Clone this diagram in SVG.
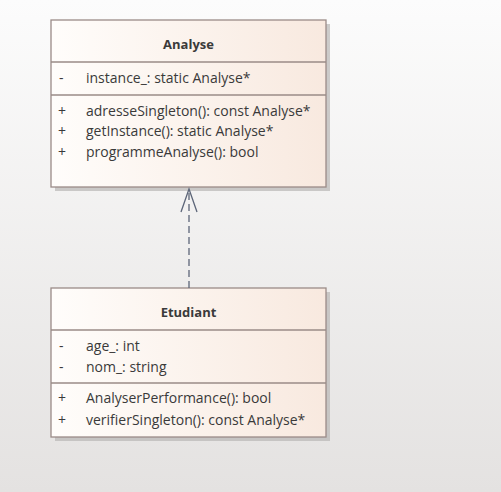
<svg xmlns="http://www.w3.org/2000/svg" width="501" height="492" viewBox="0 0 501 492">
<defs>
<linearGradient id="bg" x1="0" y1="0" x2="0" y2="1">
<stop offset="0" stop-color="#fcfcfc"/>
<stop offset="1" stop-color="#e4e2e1"/>
</linearGradient>
<linearGradient id="box" x1="0" y1="0" x2="1" y2="0">
<stop offset="0" stop-color="#fffdfb"/>
<stop offset="1" stop-color="#f8e9df"/>
</linearGradient>
<style>
.shadow{fill:#b8b6b5;opacity:0.7}
.frame{fill:url(#box);stroke:#9a8b87;stroke-width:1.3}
.sep{stroke:#9a8b87;stroke-width:1.3}
text{font-family:"Open Sans","Noto Sans","Liberation Sans",sans-serif;font-size:14px;fill:#3a3a3a}
.title{font-weight:bold;text-anchor:middle;font-size:13px}
.conn{stroke:#5d6679;stroke-width:1.3;fill:none}
</style>
</defs>
<rect x="0" y="0" width="501" height="492" fill="url(#bg)"/>
<g id="Analyse">
<rect class="shadow" x="55" y="24" width="275" height="167"/>
<rect class="frame" x="51" y="20" width="275" height="167"/>
<line class="sep" x1="51" y1="62" x2="326" y2="62"/>
<line class="sep" x1="51" y1="95" x2="326" y2="95"/>
<text class="title" x="188.5" y="49">Analyse</text>
<text x="59" y="83">-</text>
<text x="86" y="83">instance_: static Analyse*</text>
<text x="58" y="116">+</text>
<text x="86" y="116">adresseSingleton(): const Analyse*</text>
<text x="58" y="136">+</text>
<text x="86" y="136">getInstance(): static Analyse*</text>
<text x="58" y="157">+</text>
<text x="86" y="157">programmeAnalyse(): bool</text>
</g>
<g id="Etudiant">
<rect class="shadow" x="55" y="292" width="275" height="149"/>
<rect class="frame" x="51" y="288" width="275" height="149"/>
<line class="sep" x1="51" y1="330" x2="326" y2="330"/>
<line class="sep" x1="51" y1="383" x2="326" y2="383"/>
<text class="title" x="188.5" y="317">Etudiant</text>
<text x="59" y="351">-</text>
<text x="86" y="351">age_: int</text>
<text x="59" y="372">-</text>
<text x="86" y="372">nom_: string</text>
<text x="58" y="403">+</text>
<text x="86" y="403">AnalyserPerformance(): bool</text>
<text x="58" y="425">+</text>
<text x="86" y="425">verifierSingleton(): const Analyse*</text>
</g>
<g id="connectors">
<line class="conn" x1="189" y1="288" x2="189" y2="189" stroke-dasharray="7,4"/>
<polyline class="conn" points="181,212 189,189 197,212"/>
</g>
</svg>
